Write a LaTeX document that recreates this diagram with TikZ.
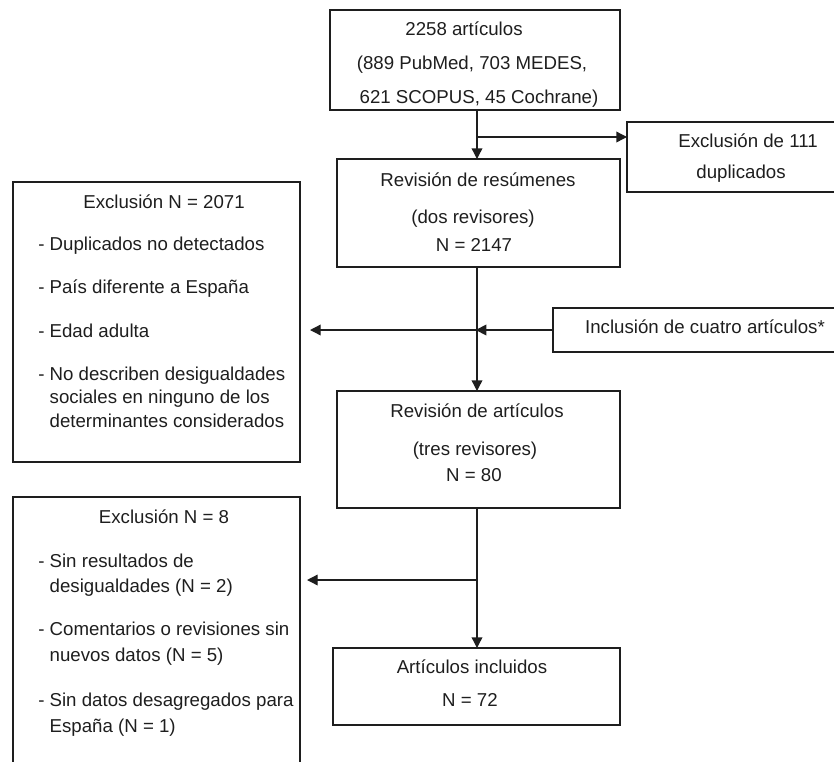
\documentclass[tikz,border=0pt]{standalone}
\usepackage{fontspec}
\setmainfont{Liberation Sans}
\usetikzlibrary{arrows.meta}
\definecolor{ink}{HTML}{1E1E1E}
\begin{document}
\begin{tikzpicture}[x=0.75pt,y=-0.75pt,
  box/.style={draw=ink, line width=0.95pt, inner sep=0pt, outer sep=0pt, anchor=north west},
  txt/.style={text=ink, inner sep=0pt, font=\fontsize{14}{17}\selectfont},
  arr/.style={draw=ink, line width=1pt, -{Triangle[length=8pt,width=8pt]}}]
\clip (0,0) rectangle (834,761);
% boxes
\node[box, minimum width=290*0.75pt, minimum height=100*0.75pt] (src) at (330,10) {};
\node[box, minimum width=242*0.75pt, minimum height=70*0.75pt] (dup) at (627,122) {};
\node[box, minimum width=283*0.75pt, minimum height=108*0.75pt] (rev1) at (337,159) {};
\node[box, minimum width=304*0.75pt, minimum height=44*0.75pt] (inc) at (553,308) {};
\node[box, minimum width=287*0.75pt, minimum height=280*0.75pt] (ex1) at (13,182) {};
\node[box, minimum width=283*0.75pt, minimum height=117*0.75pt] (rev2) at (337,391) {};
\node[box, minimum width=287*0.75pt, minimum height=300*0.75pt] (ex2) at (13,497) {};
\node[box, minimum width=287*0.75pt, minimum height=77*0.75pt] (final) at (333,648) {};
% texts
\node[txt, anchor=base] (src1) at (464,35) {2258 artículos};
\node[txt, anchor=base] (src2) at (472,69) {(889 PubMed, 703 MEDES,};
\node[txt, anchor=base] (src3) at (479,103) {621 SCOPUS, 45 Cochrane)};
\node[txt, anchor=base] (dup1) at (748,147) {Exclusión de 111};
\node[txt, anchor=base] (dup2) at (741,178) {duplicados};
\node[txt, anchor=base] (rev1a) at (478,186) {Revisión de resúmenes};
\node[txt, anchor=base] (rev1b) at (473,223) {(dos revisores)};
\node[txt, anchor=base] (rev1c) at (474,251) {N = 2147};
\node[txt, anchor=base] (inc1) at (705,333) {Inclusión de cuatro artículos*};
\node[txt, anchor=base] (rev2a) at (477,417) {Revisión de artículos};
\node[txt, anchor=base] (rev2b) at (475,455) {(tres revisores)};
\node[txt, anchor=base] (rev2c) at (474,481) {N = 80};
\node[txt, anchor=base] (fin1) at (472,673) {Artículos incluidos};
\node[txt, anchor=base] (fin2) at (470,706) {N = 72};
\node[txt, anchor=base] (ex1h) at (164,208) {Exclusión N = 2071};
\node[txt, anchor=base west] (ex1a) at (38,250) {- Duplicados no detectados};
\node[txt, anchor=base west] (ex1b) at (38,293) {- País diferente a España};
\node[txt, anchor=base west] (ex1c) at (38,337) {- Edad adulta};
\node[txt, anchor=base west] (ex1d) at (38,380) {- No describen desigualdades};
\node[txt, anchor=base west] (ex1e) at (38,403) {\hphantom{- }sociales en ninguno de los};
\node[txt, anchor=base west] (ex1f) at (38,427) {\hphantom{- }determinantes considerados};
\node[txt, anchor=base] (ex2h) at (164,523) {Exclusión N = 8};
\node[txt, anchor=base west] (ex2a) at (38,567) {- Sin resultados de};
\node[txt, anchor=base west] (ex2b) at (38,592) {\hphantom{- }desigualdades (N = 2)};
\node[txt, anchor=base west] (ex2c) at (38,635) {- Comentarios o revisiones sin};
\node[txt, anchor=base west] (ex2d) at (38,661) {\hphantom{- }nuevos datos (N = 5)};
\node[txt, anchor=base west] (ex2e) at (38,706) {- Sin datos desagregados para};
\node[txt, anchor=base west] (ex2f) at (38,732) {\hphantom{- }España (N = 1)};
% connectors
\coordinate (spine) at (477,0);
\coordinate (j1) at (477,137);
\coordinate (j2) at (477,330);
\coordinate (j3) at (477,580);
\draw[arr] (spine |- src.south) -- (spine |- rev1.north);
\draw[arr] (j1) -- (j1 -| dup.west);
\draw[arr] (spine |- rev1.south) -- (spine |- rev2.north);
\draw[arr, shorten >=7.5pt] (j2) -- (j2 -| ex1.east);
\draw[arr, shorten >=-1pt] (inc.west) -- (j2);
\draw[arr] (spine |- rev2.south) -- (spine |- final.north);
\draw[arr, shorten >=5.25pt] (j3) -- (j3 -| ex2.east);
\end{tikzpicture}
\end{document}
